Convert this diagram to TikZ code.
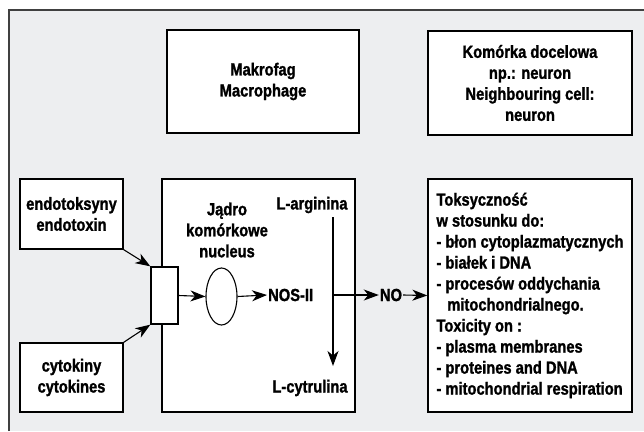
\documentclass[tikz,border=0pt]{standalone}
\usepackage{fontspec}
\setmainfont{Liberation Sans}[FakeStretch=0.84,FakeBold=1.3]
\usetikzlibrary{arrows.meta,shapes.geometric}
\definecolor{panelbg}{RGB}{237,238,240}
\definecolor{framecol}{RGB}{64,64,64}
\begin{document}
\begin{tikzpicture}[x=1pt,y=-1pt,
  txt/.style={font=\fontsize{17.5}{21}\selectfont\bfseries},
  box/.style={draw=black, fill=white, line width=1.3pt, rectangle, inner sep=0pt, align=center, txt},
  lbl/.style={inner sep=1pt, align=center, txt},
  arr/.style={line width=1.1pt, -{Stealth[length=15pt,width=11pt,inset=4.5pt]}}]
\useasboundingbox (0,0) rectangle (644,431);
\fill[white] (0,0) rectangle (644,431);
\fill[panelbg] (9,10) rectangle (644,431);
\draw[line width=2pt, framecol] (9,431) -- (9,10) -- (644,10);

\node[box, minimum width=192pt, minimum height=103pt] (mak) at (263,81.5) {Makrofag\\Macrophage};
\node[box, minimum width=204pt, minimum height=104pt] (kom) at (530,83) {Komórka docelowa\\np.: neuron\\Neighbouring cell:\\neuron};
\node[box, minimum width=103pt, minimum height=70pt] (endo) at (71.5,214) {endotoksyny\\endotoxin};
\node[box, minimum width=103pt, minimum height=69pt] (cyto) at (71.5,377.5) {cytokiny\\cytokines};
\node[box, minimum width=193pt, minimum height=233pt] (mac) at (258.5,295.5) {};
\node[box, minimum width=27pt, minimum height=57pt] (rec) at (164.5,295.5) {};
\node[draw, ellipse, line width=1.1pt, minimum width=31pt, minimum height=57pt, inner sep=0pt] (nuc) at (221.5,296.5) {};
\node[lbl, anchor=west] (nos) at (267,295) {NOS-II};
\node[lbl] (jadro) at (227,230) {Jądro\\komórkowe\\nucleus};
\node[lbl] (larg) at (312,205) {L-arginina};
\node[lbl] (lcyt) at (310,388) {L-cytrulina};
\node[lbl] (no) at (391,295) {NO};
\node[box, align=left, minimum width=204pt, minimum height=233pt] (tox) at (530,295.5) {Toksyczność\\w stosunku do:\\- błon cytoplazmatycznych\\- białek i DNA\\- procesów oddychania\\\hspace*{0.62em}mitochondrialnego.\\Toxicity on :\\- plasma membranes\\- proteines and DNA\\- mitochondrial respiration};

\coordinate (vtop) at (333,217);
\coordinate (vbot) at (333,366);
\coordinate (vmid) at (333,295);

\draw[arr] (endo.south east) -- (rec.north west);
\draw[arr] (cyto.north east) -- (rec.south west);
\draw[arr] (rec.east) -- (nuc.west);
\draw[arr] (nuc.east) -- (nos.west);
\draw[arr] (vtop) -- (vbot);
\draw[arr] (vmid) -- (no.west);
\draw[arr] (no.east) -- (tox.west);
\end{tikzpicture}
\end{document}
